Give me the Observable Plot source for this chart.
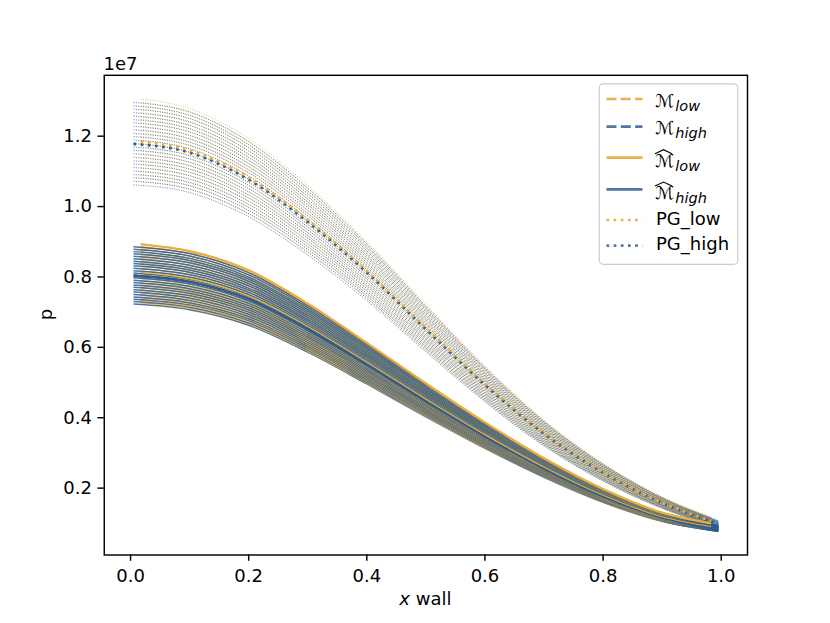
<!DOCTYPE html>
<html>
<head>
<meta charset="utf-8">
<script src="https://cdn.jsdelivr.net/npm/d3@7"></script>
<script src="https://cdn.jsdelivr.net/npm/@observablehq/plot@0.6"></script>
<style>
  html, body { margin: 0; padding: 0; background: white; }
  #chart { width: 830px; height: 623px; }
</style>
</head>
<body>
<div id="chart"></div>
<script>
// ---- data (p in units of 1e7) ----
const xTicks = [0.0, 0.2, 0.4, 0.6, 0.8, 1.0];
const yTicks = [0.2, 0.4, 0.6, 0.8, 1.0, 1.2];

// sample positions along the wall (high: fine grid, low: coarse grid)
const xHigh = [0.005, 0.1, 0.2, 0.3, 0.4, 0.5, 0.6, 0.7, 0.8, 0.9, 0.995];
const xLow  = [0.017, 0.1, 0.2, 0.3, 0.4, 0.5, 0.6, 0.7, 0.8, 0.9, 0.983];

// profile shapes (relative to the value at the wall start)
const pgShapeHigh = [1.0, 0.979, 0.914, 0.812, 0.690, 0.553, 0.419, 0.301, 0.207, 0.134, 0.083];
const pgShapeLow  = [1.0, 0.979, 0.914, 0.812, 0.690, 0.553, 0.419, 0.301, 0.207, 0.134, 0.090];
const mShapeHigh  = [1.0, 0.978, 0.917, 0.811, 0.686, 0.557, 0.433, 0.319, 0.221, 0.146, 0.106];
const mShapeLow   = [1.0, 0.978, 0.917, 0.811, 0.686, 0.557, 0.433, 0.319, 0.221, 0.146, 0.112];

// start values of the individual sample curves
const pgStartHigh = [1.062, 1.072, 1.082, 1.091, 1.101, 1.111, 1.121, 1.130, 1.140, 1.150, 1.160, 1.169, 1.179,
                     1.189, 1.199, 1.208, 1.218, 1.228, 1.238, 1.247, 1.257, 1.267, 1.277, 1.286, 1.296];
const pgStartLow  = [1.072, 1.082, 1.092, 1.101, 1.111, 1.121, 1.131, 1.140, 1.150, 1.160, 1.170, 1.179, 1.189,
                     1.199, 1.209, 1.218, 1.228, 1.238, 1.248, 1.257, 1.267, 1.277, 1.287, 1.296, 1.306];
const mStartHigh  = [0.723, 0.730, 0.737, 0.743, 0.750, 0.757, 0.764, 0.771, 0.777, 0.784, 0.791, 0.798, 0.805,
                     0.811, 0.818, 0.825, 0.832, 0.838, 0.845, 0.852, 0.859, 0.866, 0.872, 0.879, 0.886];
const mStartLow   = [0.727, 0.734, 0.741, 0.748, 0.755, 0.762, 0.769, 0.775, 0.782, 0.789, 0.796, 0.803, 0.810,
                     0.817, 0.824, 0.831, 0.838, 0.845, 0.852, 0.859, 0.865, 0.872, 0.879, 0.886, 0.893];

// mean curves (thick)
const pgMeanHigh = 1.178, pgMeanLow = 1.185;
const mMeanHigh = 0.804, mMeanLow = 0.813, mTopLow = 0.893;

const ORANGE = "#ecae3a", BLUE = "#2d5c8f";
const LEG_ORANGE = "#e9b04c", LEG_BLUE = "#4f78a8";

function rows(xs, shape, start, id, color) {
  return xs.map((x, i) => ({x, y: start * shape[i], id, color}));
}

const pgRows = [], mRows = [];
pgStartHigh.forEach((s, k) => {
  pgRows.push(...rows(xHigh, pgShapeHigh, s, "pgH" + k, BLUE));
  pgRows.push(...rows(xLow, pgShapeLow, pgStartLow[k], "pgL" + k, ORANGE));
});
mStartHigh.forEach((s, k) => {
  mRows.push(...rows(xHigh, mShapeHigh, s, "mH" + k, BLUE));
  mRows.push(...rows(xLow, mShapeLow, mStartLow[k], "mL" + k, ORANGE));
});
const mTop = rows(xLow, mShapeLow, mTopLow, "topL", ORANGE);
const mMeanH = rows(xHigh, mShapeHigh, mMeanHigh, "meanH", BLUE);
const mMeanL = rows(xLow, mShapeLow, mMeanLow, "meanL", ORANGE);
const pgThick = [
  ...rows(xHigh, pgShapeHigh, pgMeanHigh, "pgMeanH", BLUE),
  ...rows(xLow, pgShapeLow, pgMeanLow, "pgMeanL", ORANGE)
];

const W = 830, H = 623;
const mL = 103.75, mR = 83, mT = 74.8, mB = 68.5;
const base = {x: "x", y: "y", z: "id", stroke: "color", strokeLinecap: "butt", curve: "monotone-x"};

const plot = Plot.plot({
  width: W, height: H,
  marginLeft: mL, marginRight: mR, marginTop: mT, marginBottom: mB,
  style: {fontFamily: "DejaVu Sans", fontSize: "18px", background: "white", color: "black"},
  x: {domain: [-0.0445, 1.0445]},
  y: {domain: [0.010, 1.373]},
  color: {type: "identity"},
  marks: [
    Plot.line(pgRows, {...base, strokeWidth: 1.0, strokeOpacity: 0.7, strokeDasharray: "1.1,1.3"}),
    Plot.line(mRows, {...base, strokeWidth: 1.5, strokeOpacity: 0.85}),
    Plot.line(mTop, {...base, strokeWidth: 2.2}),
    Plot.line(mMeanH, {...base, strokeWidth: 2.7}),
    Plot.line(mMeanL, {...base, strokeWidth: 1.2}),
    Plot.line(pgThick, {...base, strokeWidth: 2.7, strokeDasharray: "2.7,4.46"}),
    Plot.frame({stroke: "black", strokeWidth: 1.44}),
    Plot.axisX({ticks: xTicks, tickFormat: d3.format(".1f"), tickSize: 6.3, tickPadding: 7.7,
      fontSize: 18, label: null, strokeWidth: 1.44}),
    Plot.axisY({ticks: yTicks, tickFormat: d3.format(".1f"), tickSize: 6.3, tickPadding: 6,
      fontSize: 18, label: null, strokeWidth: 1.44})
  ]
});
document.getElementById("chart").appendChild(plot);

// ---- extra text: offset, axis labels, legend ----
const svg = d3.select(plot);
const fg = svg.append("g").attr("font-family", "DejaVu Sans").attr("font-size", 18)
  .attr("fill", "black").attr("text-anchor", "start");
fg.append("text").attr("x", 103.5).attr("y", 70).text("1e7");
const xl = fg.append("text").attr("x", (mL + W - mR) / 2).attr("y", 605).attr("text-anchor", "middle");
xl.append("tspan").attr("font-style", "italic").text("x");
xl.append("tspan").text(" wall");
fg.append("text").attr("transform", `translate(51.7,${(mT + H - mB) / 2}) rotate(-90)`)
  .attr("text-anchor", "middle").text("p");

const lg = svg.append("g").attr("font-family", "DejaVu Sans").attr("font-size", 18)
  .attr("text-anchor", "start").attr("fill", "black");
lg.append("rect").attr("x", 599.3).attr("y", 83.8).attr("width", 138.5).attr("height", 180.5)
  .attr("rx", 4).attr("fill", "white").attr("fill-opacity", 0.8)
  .attr("stroke", "#cccccc").attr("stroke-width", 1.2);

const legendItems = [
  {kind: "M", hat: false, sub: "low",  color: LEG_ORANGE, dash: "10,4.3", cy: 99,    base: 106.7},
  {kind: "M", hat: false, sub: "high", color: LEG_BLUE,   dash: "10,4.3", cy: 126.7, base: 134.3},
  {kind: "M", hat: true,  sub: "low",  color: LEG_ORANGE, dash: null,     cy: 157.7, base: 166.7},
  {kind: "M", hat: true,  sub: "high", color: LEG_BLUE,   dash: null,     cy: 189.3, base: 199},
  {kind: "T", text: "PG_low",  color: LEG_ORANGE, dash: "2.7,4.46", cy: 220,   base: 225.3},
  {kind: "T", text: "PG_high", color: LEG_BLUE,   dash: "2.7,4.46", cy: 245.7, base: 250}
];
legendItems.forEach(it => {
  const ln = lg.append("line").attr("x1", 606.5).attr("x2", 642.5).attr("y1", it.cy).attr("y2", it.cy)
    .attr("stroke", it.color).attr("stroke-width", 2.7);
  if (it.dash) ln.attr("stroke-dasharray", it.dash);
  if (it.kind === "T") {
    lg.append("text").attr("x", 656).attr("y", it.base).text(it.text);
  } else {
    const t = lg.append("text").attr("x", 655).attr("y", it.base);
    t.append("tspan").text("\u2133");
    t.append("tspan").attr("font-size", 14.5).attr("font-style", "italic").attr("dy", 4).attr("dx", 1).text(it.sub);
    if (it.hat) {
      lg.append("path").attr("d", `M655,${it.base - 13} L663.5,${it.base - 17} L672,${it.base - 13}`)
        .attr("fill", "none").attr("stroke", "black").attr("stroke-width", 1.1);
    }
  }
});
</script>
</body>
</html>
